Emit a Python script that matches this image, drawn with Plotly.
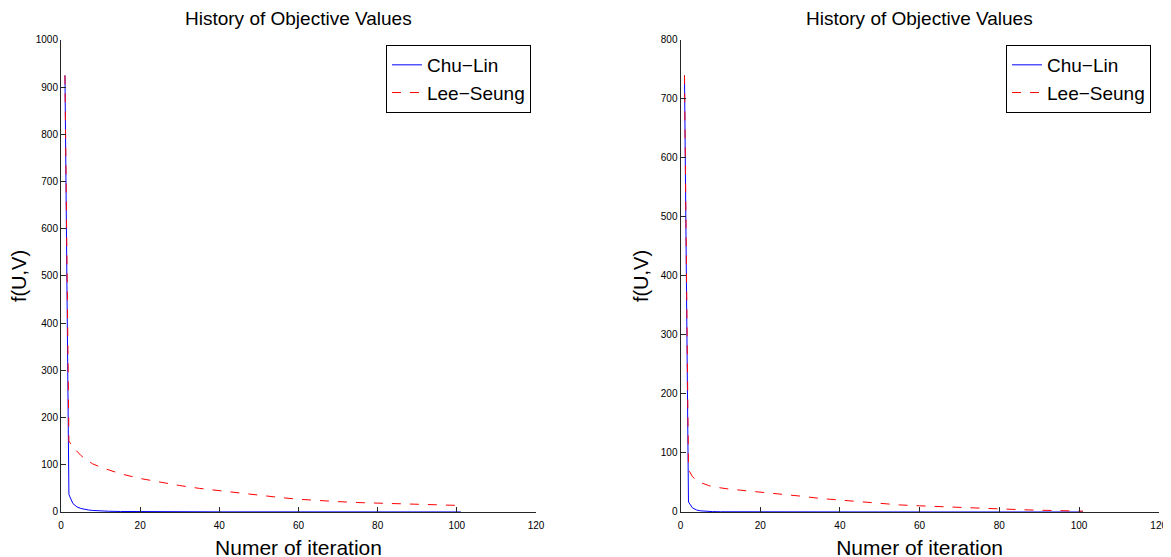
import plotly.graph_objects as go

iterations = [1, 2, 3, 4, 5, 6, 7, 8, 10, 12, 15, 20, 25, 30, 35, 40, 45, 50,
              55, 60, 65, 70, 75, 80, 85, 90, 95, 100, 101]

left_chu_lin = [925, 37, 18, 11, 7.5, 5.5, 4.2, 3.3, 2.2, 1.6, 1.1, 0.7, 0.5, 0.4,
                0.35, 0.3, 0.28, 0.25, 0.22, 0.2, 0.18, 0.17, 0.16, 0.15, 0.14,
                0.13, 0.12, 0.11, 0.11]
left_lee_seung = [925, 150, 138, 128, 120, 113, 107, 102, 95, 89, 81, 71, 63, 56,
                  50, 45, 40, 35, 31, 27, 24, 22, 20, 19, 17, 16, 15, 14, 13.8]

right_chu_lin = [740, 17, 7, 3.5, 2, 1.3, 0.9, 0.7, 0.4, 0.3, 0.2, 0.15, 0.12, 0.1,
                 0.1, 0.09, 0.08, 0.08, 0.07, 0.07, 0.06, 0.06, 0.05, 0.05, 0.05,
                 0.05, 0.04, 0.04, 0.04]
right_lee_seung = [740, 72, 60, 54, 50, 47, 45, 43, 40.5, 39, 37, 34, 30, 27, 23,
                   20, 17, 14.5, 12, 10.5, 9, 7.5, 6, 5, 4, 3, 2.2, 1.6, 1.5]

title_text = "History of Objective Values"
x_title = "Numer of iteration"
y_title = "f(U,V)"
names = ["Chu\u2212Lin", "Lee\u2212Seung"]

FONT = "Liberation Sans, Arial, Helvetica, sans-serif"
AX = "#262626"

fig = go.Figure()
fig.add_trace(go.Scatter(x=iterations, y=left_chu_lin, mode="lines", name=names[0],
                         line=dict(color="#0000FF", width=1), xaxis="x", yaxis="y",
                         legend="legend"))
fig.add_trace(go.Scatter(x=iterations, y=left_lee_seung, mode="lines", name=names[1],
                         line=dict(color="#FF0000", width=1, dash="dash"), xaxis="x", yaxis="y",
                         legend="legend"))
fig.add_trace(go.Scatter(x=iterations, y=right_chu_lin, mode="lines", name=names[0],
                         line=dict(color="#0000FF", width=1), xaxis="x2", yaxis="y2",
                         legend="legend2"))
fig.add_trace(go.Scatter(x=iterations, y=right_lee_seung, mode="lines", name=names[1],
                         line=dict(color="#FF0000", width=1, dash="dash"), xaxis="x2", yaxis="y2",
                         legend="legend2"))

# the page body has an 8px margin; domains are set so the screen positions match
ydom = [0.09515, 0.94255]
xdom1 = [0.04526, 0.45090]
xdom2 = [0.57430, 0.98267]
common_x = dict(range=[0, 120], dtick=20, tick0=0, showline=True, linecolor=AX, linewidth=1,
                ticks="inside", ticklen=5, tickcolor=AX, showgrid=False, zeroline=False,
                automargin=False, ticklabelstandoff=4,
                tickfont=dict(size=10, color="black", family=FONT),
                title=dict(text=x_title, font=dict(size=21, color="black", family=FONT), standoff=10))
common_y = dict(showline=True, linecolor=AX, linewidth=1, ticks="inside", ticklen=5,
                tickcolor=AX, showgrid=False, zeroline=False, automargin=False,
                tickfont=dict(size=10, color="black", family=FONT),
                title=dict(text=y_title, font=dict(size=20, color="black", family=FONT), standoff=6))

legend_common = dict(bgcolor="white", bordercolor="black", borderwidth=1,
                     font=dict(size=19, color="black", family=FONT),
                     xanchor="right", yanchor="top", tracegroupgap=0)

fig.update_layout(
    width=1171, height=557,
    margin=dict(l=0, r=0, t=0, b=0),
    plot_bgcolor="white", paper_bgcolor="white",
    font=dict(family=FONT, color="black"),
    xaxis=dict(domain=xdom1, anchor="y", **common_x),
    yaxis=dict(domain=ydom, anchor="x", range=[0, 1000], dtick=100, **common_y),
    xaxis2=dict(domain=xdom2, anchor="y2", **common_x),
    yaxis2=dict(domain=ydom, anchor="x2", range=[0, 800], dtick=100, **common_y),
    legend=dict(x=0.4466, y=0.9336, **legend_common),
    legend2=dict(x=0.9761, y=0.9336, **legend_common),
    annotations=[
        dict(text=title_text, x=sum(xdom1) / 2, y=ydom[1], xref="paper", yref="paper",
             xanchor="center", yanchor="bottom", yshift=9, showarrow=False,
             font=dict(size=19, color="black", family=FONT)),
        dict(text=title_text, x=sum(xdom2) / 2, y=ydom[1], xref="paper", yref="paper",
             xanchor="center", yanchor="bottom", yshift=9, showarrow=False,
             font=dict(size=19, color="black", family=FONT)),
    ],
)

fig.write_html("out.html")
